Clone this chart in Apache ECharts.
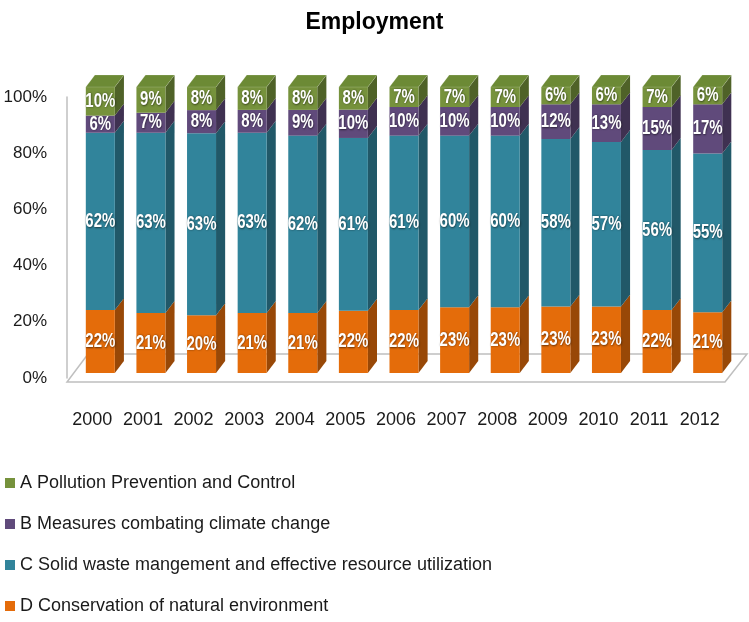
<!DOCTYPE html>
<html>
<head>
<meta charset="utf-8">
<script src="https://cdn.jsdelivr.net/npm/echarts@6/dist/echarts.min.js"></script>
<style>
html,body{margin:0;padding:0;background:#fff;}
#chart{width:749px;height:622px;}
</style>
</head>
<body>
<div id="chart"></div>
<script>
const years = ['2000','2001','2002','2003','2004','2005','2006','2007','2008','2009','2010','2011','2012'];
const seriesNames = [
  'A Pollution Prevention and Control',
  'B Measures combating climate change',
  'C Solid waste mangement and effective resource utilization',
  'D Conservation of natural environment'
];
const valuesA = [10, 9, 8, 8, 8, 8, 7, 7, 7, 6, 6, 7, 6];
const valuesB = [6, 7, 8, 8, 9, 10, 10, 10, 10, 12, 13, 15, 17];
const valuesC = [62, 63, 63, 63, 62, 61, 61, 60, 60, 58, 57, 56, 55];
const valuesD = [22, 21, 20, 21, 21, 22, 22, 23, 23, 23, 23, 22, 21];
const yTicks = [0, 20, 40, 60, 80, 100];

const FONT = '"Liberation Sans", Arial, sans-serif';
const colors = {
  A: {front: '#76923C', side: '#4F6228', top: '#6C8A35'},
  B: {front: '#604A7B', side: '#3F3151', top: '#56426F'},
  C: {front: '#31849B', side: '#215868', top: '#2C7689'},
  D: {front: '#E46C0A', side: '#984807', top: '#C95F09'}
};

// stacking order bottom -> top
const stackOrder = [
  {key: 'D', name: seriesNames[3], vals: valuesD},
  {key: 'C', name: seriesNames[2], vals: valuesC},
  {key: 'B', name: seriesNames[1], vals: valuesB},
  {key: 'A', name: seriesNames[0], vals: valuesA}
];

const totals = years.map((_, i) => stackOrder.reduce((s, o) => s + o.vals[i], 0));
const cum = years.map(() => 0);
const stackData = stackOrder.map((o) => {
  return o.vals.map((v, i) => {
    const base = cum[i] / totals[i] * 100;
    cum[i] += v;
    const top = cum[i] / totals[i] * 100;
    return [i, base, top, v];
  });
});

function makeBarRender(key, isTop) {
  const c = colors[key];
  return function (params, api) {
    const idx = api.value(0);
    const p0 = api.coord([idx, api.value(1)]);
    const p1 = api.coord([idx, api.value(2)]);
    const band = api.size([1, 0])[0];
    const w = band * 0.573;
    const dx = band * 0.18;
    const dy = -band * 0.235;
    const xl = p0[0] - w / 2;
    const xr = p0[0] + w / 2;
    const yb = p0[1];
    const yt = p1[1];
    const children = [
      {
        type: 'polygon',
        shape: {points: [[xr, yt], [xr + dx, yt + dy], [xr + dx, yb + dy], [xr, yb]]},
        style: {fill: c.side}
      },
      {
        type: 'rect',
        shape: {x: xl, y: yt, width: w, height: yb - yt},
        style: {fill: c.front}
      }
    ];
    if (isTop) {
      children.push({
        type: 'polygon',
        shape: {points: [[xl, yt], [xl + dx, yt + dy], [xr + dx, yt + dy], [xr, yt]]},
        style: {fill: c.top, stroke: 'rgba(255,255,255,0.25)', lineWidth: 0.6}
      });
    }
    children.push({
      type: 'text',
      scaleY: 1.35,
      x: p0[0],
      y: (yt + yb) / 2,
      style: {
        text: api.value(3) + '%',
        x: 0,
        y: 0,
        align: 'center',
        verticalAlign: 'middle',
        fill: '#ffffff',
        font: 'bold 15px ' + FONT,
        textShadowColor: 'rgba(0,0,0,0.55)',
        textShadowBlur: 2,
        textShadowOffsetX: 0.5,
        textShadowOffsetY: 0.5
      }
    });
    return {type: 'group', children: children};
  };
}

const barSeries = stackOrder.map((o, si) => ({
  type: 'custom',
  name: o.name,
  xAxisIndex: 1,
  yAxisIndex: 1,
  z: 3,
  itemStyle: {color: colors[o.key].front},
  encode: {x: 0, y: 2},
  data: stackData[si],
  renderItem: makeBarRender(o.key, si === stackOrder.length - 1)
}));

const floorSeries = {
  type: 'custom',
  name: 'floor',
  xAxisIndex: 0,
  yAxisIndex: 0,
  z: 1,
  silent: true,
  legendHoverLink: false,
  data: [[0, 0]],
  renderItem: function (params, api) {
    const cs = params.coordSys;
    const x0 = cs.x;
    const x1 = cs.x + cs.width;
    const y0 = cs.y + cs.height;
    return {
      type: 'polygon',
      shape: {points: [[x0, y0 + 4], [x1, y0 + 4], [x1 + 22, y0 - 24], [x0 + 21, y0 - 24]]},
      style: {fill: '#ffffff', stroke: '#BFBFBF', lineWidth: 1.5}
    };
  }
};

const chart = echarts.init(document.getElementById('chart'), null, {renderer: 'canvas'});
chart.setOption({
  backgroundColor: '#ffffff',
  animation: false,
  title: {
    text: 'Employment',
    left: 'center',
    top: 6,
    textStyle: {fontFamily: FONT, fontWeight: 'bold', fontSize: 23, color: '#000000'}
  },
  legend: {
    orient: 'vertical',
    left: 5,
    top: 474,
    height: 148,
    padding: 0,
    icon: 'rect',
    itemWidth: 10,
    itemHeight: 10,
    itemGap: 23,
    data: seriesNames,
    textStyle: {fontFamily: FONT, fontSize: 18, lineHeight: 18, color: '#1a1a1a'}
  },
  grid: [
    {left: 67, top: 97, width: 658, height: 281},
    {left: 75, top: 87, width: 658, height: 286}
  ],
  xAxis: [
    {
      type: 'category', gridIndex: 0, data: years,
      axisLine: {show: false}, axisTick: {show: false},
      axisLabel: {interval: 0, margin: 33, fontFamily: FONT, fontSize: 18, color: '#1a1a1a'}
    },
    {
      type: 'category', gridIndex: 1, data: years, show: false
    }
  ],
  yAxis: [
    {
      type: 'value', gridIndex: 0, min: yTicks[0], max: yTicks[yTicks.length - 1], interval: 20,
      axisLine: {show: true, lineStyle: {color: '#BFBFBF', width: 1.5}},
      axisTick: {show: false},
      splitLine: {show: false},
      axisLabel: {margin: 20, fontFamily: FONT, fontSize: 17, color: '#1a1a1a', formatter: '{value}%'}
    },
    {
      type: 'value', gridIndex: 1, min: 0, max: 100, show: false, splitLine: {show: false}
    }
  ],
  series: [floorSeries].concat(barSeries)
});
</script>
</body>
</html>
